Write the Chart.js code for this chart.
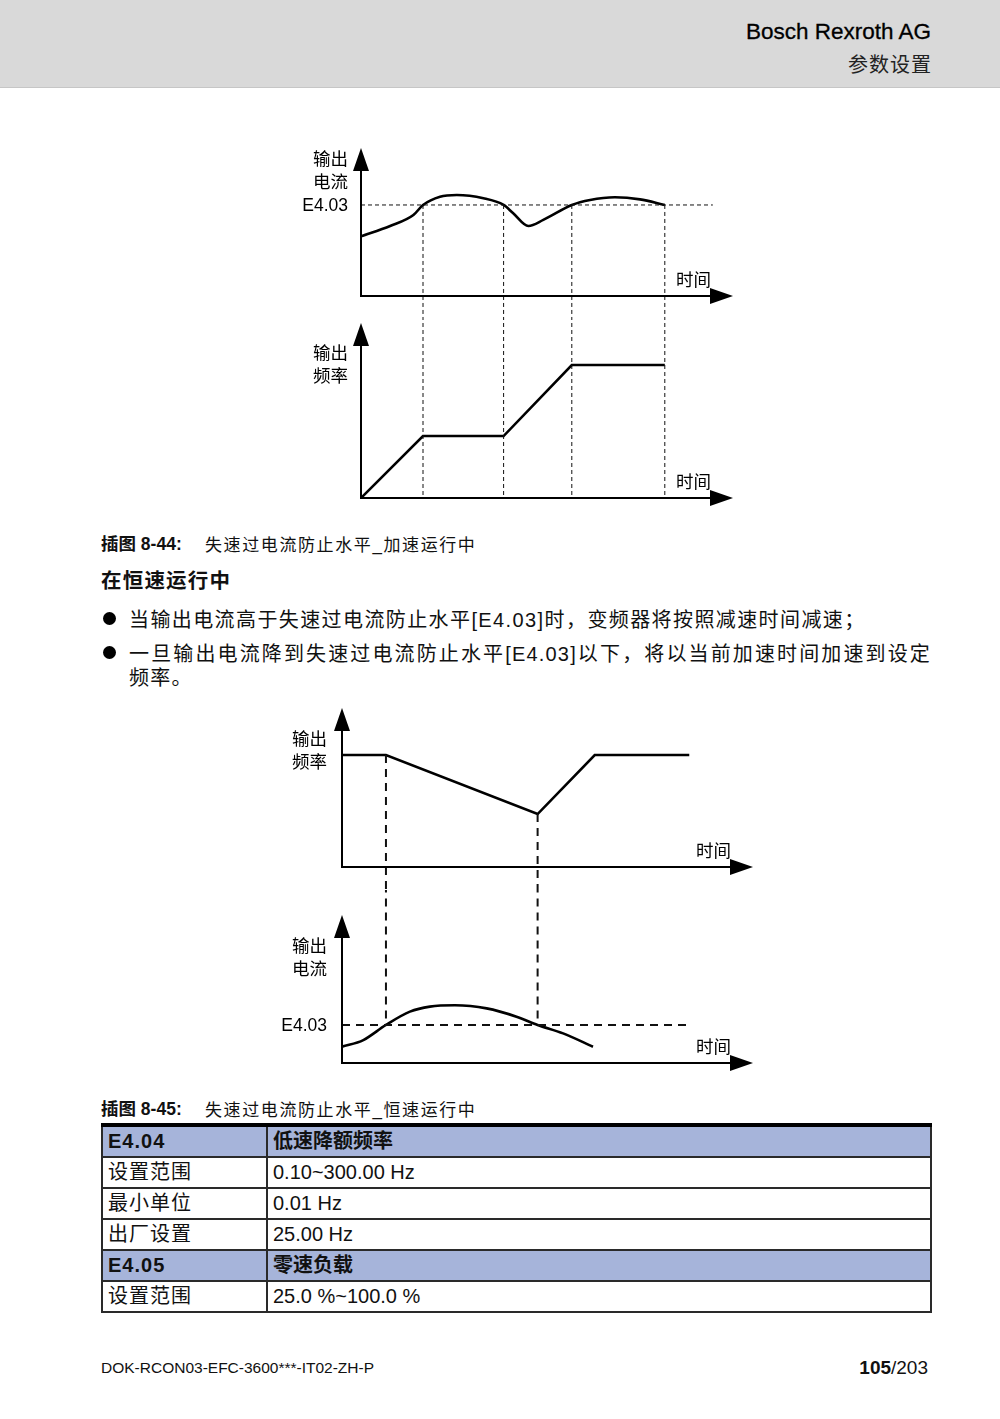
<!DOCTYPE html>
<html>
<head>
<meta charset="utf-8">
<script src="https://cdn.jsdelivr.net/npm/chart.js@4.4.1/dist/chart.umd.min.js"></script>
<style>
  body { margin: 0; background: #fff; }
  #page { position: relative; width: 1000px; height: 1419px; overflow: hidden;
          font-family: "Liberation Sans", "Noto Sans CJK SC", sans-serif; color: #111; }
  .t { position: absolute; white-space: nowrap; }
  .dot { position: absolute; width: 13px; height: 13px; border-radius: 50%; background: #000; }
  canvas { position: absolute; }
  #head { position: absolute; left: 0; top: 0; width: 1000px; height: 87px; background: #d9d9d9;
          border-bottom: 1px solid #c6c6c6; }
  table { position: absolute; left: 101px; top: 1123px; width: 831px; border-collapse: collapse;
          border-top: 4px solid #000; font-size: 20px; }
  td { height: 29px; padding: 0 0 0 5px; border: 2px solid #2a2a2a; line-height: 29px; }
  td.k { width: 158px; letter-spacing: 1px; }
  tr.h td { background: #a6b4da; font-weight: bold; }
</style>
</head>
<body>
<div id="page">
  <div id="head"></div>
  <div class="t" style="right:69px; top:19px; font-size:22.5px; -webkit-text-stroke:0.3px #000; color:#000;">Bosch Rexroth AG</div>
  <div class="t" style="right:69px; top:49px; font-size:20px; color:#222; letter-spacing:1px; margin-right:-1px;">参数设置</div>

  <canvas id="accCur" width="455" height="180" style="left:290px; top:140px;"></canvas>
  <canvas id="accFreq" width="455" height="190" style="left:290px; top:320px;"></canvas>

  <div class="t" style="left:101px; top:530px; font-size:17.5px; font-weight:bold;">插图 8-44:</div>
  <div class="t" style="left:205px; top:531px; font-size:17px; letter-spacing:1.6px;">失速过电流防止水平_加速运行中</div>
  <div class="t" style="left:101px; top:564px; font-size:20.5px; font-weight:bold; letter-spacing:1.2px;">在恒速运行中</div>

  <div class="dot" style="left:103px; top:612px;"></div>
  <div class="t" style="left:129px; top:604px; font-size:20px; letter-spacing:1.4px;">当输出电流高于失速过电流防止水平[E4.03]时，变频器将按照减速时间减速；</div>
  <div class="dot" style="left:103px; top:646px;"></div>
  <div class="t" style="left:129px; top:638px; width:802px; font-size:20px; letter-spacing:1.2px; text-align:justify; text-align-last:justify;">一旦输出电流降到失速过电流防止水平[E4.03]以下，将以当前加速时间加速到设定</div>
  <div class="t" style="left:129px; top:662px; font-size:20px; letter-spacing:1.2px;">频率。</div>

  <canvas id="constFreq" width="500" height="190" style="left:270px; top:700px;"></canvas>
  <canvas id="constCur" width="500" height="190" style="left:270px; top:890px;"></canvas>

  <div class="t" style="left:101px; top:1095px; font-size:17.5px; font-weight:bold;">插图 8-45:</div>
  <div class="t" style="left:205px; top:1096px; font-size:17px; letter-spacing:1.6px;">失速过电流防止水平_恒速运行中</div>

  <table>
    <tr class="h"><td class="k">E4.04</td><td>低速降额频率</td></tr>
    <tr><td class="k">设置范围</td><td>0.10~300.00 Hz</td></tr>
    <tr><td class="k">最小单位</td><td>0.01 Hz</td></tr>
    <tr><td class="k">出厂设置</td><td>25.00 Hz</td></tr>
    <tr class="h"><td class="k">E4.05</td><td>零速负载</td></tr>
    <tr><td class="k">设置范围</td><td>25.0 %~100.0 %</td></tr>
  </table>

  <div class="t" style="left:101px; top:1359px; font-size:15.5px;">DOK-RCON03-EFC-3600***-IT02-ZH-P</div>
  <div class="t" style="right:72px; top:1357px; font-size:19px;"><b>105</b>/203</div>
</div>

<script>
// Fig 8-44: acceleration (time units, value units 0..10 up to the arrow tip)
const accCurT = [0, 0.94, 1.69, 2.0, 2.55, 3.09, 3.95, 4.6, 4.91, 5.4, 5.88, 6.8, 7.39, 8.19, 9.0, 9.8];
const accCurV = [4.03, 4.73, 5.47, 6.15, 6.71, 6.82, 6.6, 6.15, 5.59, 4.73, 5.14, 6.15, 6.49, 6.67, 6.53, 6.15];
const accFreqT = [0, 2.0, 4.6, 6.8, 9.8];
const accFreqV = [0, 3.54, 3.54, 7.6, 7.6];
const accMarks = [2.0, 4.6, 6.8, 9.8];
const accLimit = 6.15;
const accLimitEnd = 11.35;
const accXMax = 12;

// Fig 8-45: constant speed
const constFreqT = [0, 2.0, 8.9, 11.5, 15.8];
const constFreqV = [7.04, 7.04, 3.33, 7.04, 7.04];
const constCurT = [0, 0.97, 2.0, 3.09, 4.0, 5.14, 6.58, 7.94, 8.9, 10.06, 11.42];
const constCurV = [1.1, 1.55, 2.57, 3.47, 3.81, 3.9, 3.69, 3.13, 2.57, 2.0, 1.1];
const constMarks = [2.0, 8.9];
const constMarkTop = [7.04, 3.33];
const constLimit = 2.57;
const constLimitEnd = 15.9;
const constXMax = 18.7;

const pts = (t, v) => t.map((x, i) => ({ x, y: v[i] }));

function curve(t, v, smooth) {
  return { data: pts(t, v), borderColor: '#000', borderWidth: 2.6, fill: false,
           cubicInterpolationMode: smooth ? 'monotone' : 'default', tension: 0 };
}
function dashed(t, v, dash, width) {
  return { data: pts(t, v), borderColor: '#111', borderWidth: width, borderDash: dash,
           fill: false, tension: 0, clip: false };
}

// arrow axes + labels, drawn from the chart area
const arrowAxes = {
  id: 'arrowAxes',
  afterDatasetsDraw(chart, args, o) {
    const { ctx, chartArea: a } = chart;
    const L = a.left, R = a.right, T = a.top, B = a.bottom;
    const h = 23, w = 8;
    ctx.save();
    ctx.strokeStyle = '#000';
    ctx.fillStyle = '#000';
    ctx.lineWidth = 2;
    ctx.beginPath();
    ctx.moveTo(L, B); ctx.lineTo(L, T + h);
    ctx.moveTo(L - 1, B); ctx.lineTo(R - h, B);
    ctx.stroke();
    ctx.beginPath();
    ctx.moveTo(L, T); ctx.lineTo(L - w, T + h); ctx.lineTo(L + w, T + h); ctx.closePath(); ctx.fill();
    ctx.beginPath();
    ctx.moveTo(R, B); ctx.lineTo(R - h, B - w); ctx.lineTo(R - h, B + w); ctx.closePath(); ctx.fill();

    ctx.fillStyle = '#000';
    ctx.textAlign = 'right';
    ctx.textBaseline = 'middle';
    ctx.font = '17.5px "Noto Sans CJK SC"';
    o.yLabel.forEach((s, i) => ctx.fillText(s, L - o.gap, T + o.labelTop + i * 23));
    ctx.fillText('时间', R - 22, B - 17);
    if (o.refLabel) {
      ctx.font = '17.5px "Liberation Sans"';
      ctx.fillText(o.refLabel, L - o.gap, chart.scales.y.getPixelForValue(o.refValue) + 1);
    }
    ctx.restore();
  }
};

function makeChart(id, pad, xMax, datasets, opts) {
  return new Chart(document.getElementById(id), {
    type: 'line',
    data: { datasets },
    options: {
      responsive: false,
      animation: false,
      devicePixelRatio: 1,
      layout: { padding: pad },
      elements: { point: { radius: 0 } },
      scales: {
        x: { type: 'linear', min: 0, max: xMax, display: false },
        y: { min: 0, max: 10, display: false }
      },
      plugins: { legend: { display: false }, tooltip: { enabled: false }, arrowAxes: opts }
    },
    plugins: [arrowAxes]
  });
}

// fig 8-44 top: output current
makeChart('accCur', { left: 71, right: 12, top: 8, bottom: 24 }, accXMax, [
  dashed([0, accLimitEnd], [accLimit, accLimit], [4, 3], 1),
  ...accMarks.map(t => dashed([t, t], [accLimit, -3], [4, 3], 1)),
  curve(accCurT, accCurV, true)
], { yLabel: ['输出', '电流'], labelTop: 10, gap: 13, refLabel: 'E4.03', refValue: accLimit });

// fig 8-44 bottom: output frequency
makeChart('accFreq', { left: 71, right: 12, top: 3, bottom: 12 }, accXMax, [
  ...accMarks.map(t => dashed([t, t], [12, 0], [4, 3], 1)),
  curve(accFreqT, accFreqV, false)
], { yLabel: ['输出', '频率'], labelTop: 29, gap: 13 });

// fig 8-45 top: output frequency
makeChart('constFreq', { left: 72, right: 17, top: 8, bottom: 23 }, constXMax, [
  ...constMarks.map((t, i) => dashed([t, t], [constMarkTop[i], -3], [8, 6], 2)),
  curve(constFreqT, constFreqV, false)
], { yLabel: ['输出', '频率'], labelTop: 30, gap: 15 });

// fig 8-45 bottom: output current
makeChart('constCur', { left: 72, right: 17, top: 25, bottom: 17 }, constXMax, [
  dashed([0, constLimitEnd], [constLimit, constLimit], [8, 6], 2),
  ...constMarks.map(t => dashed([t, t], [13, constLimit], [8, 6], 2)),
  curve(constCurT, constCurV, true)
], { yLabel: ['输出', '电流'], labelTop: 30, gap: 15, refLabel: 'E4.03', refValue: constLimit });
</script>
</body>
</html>
